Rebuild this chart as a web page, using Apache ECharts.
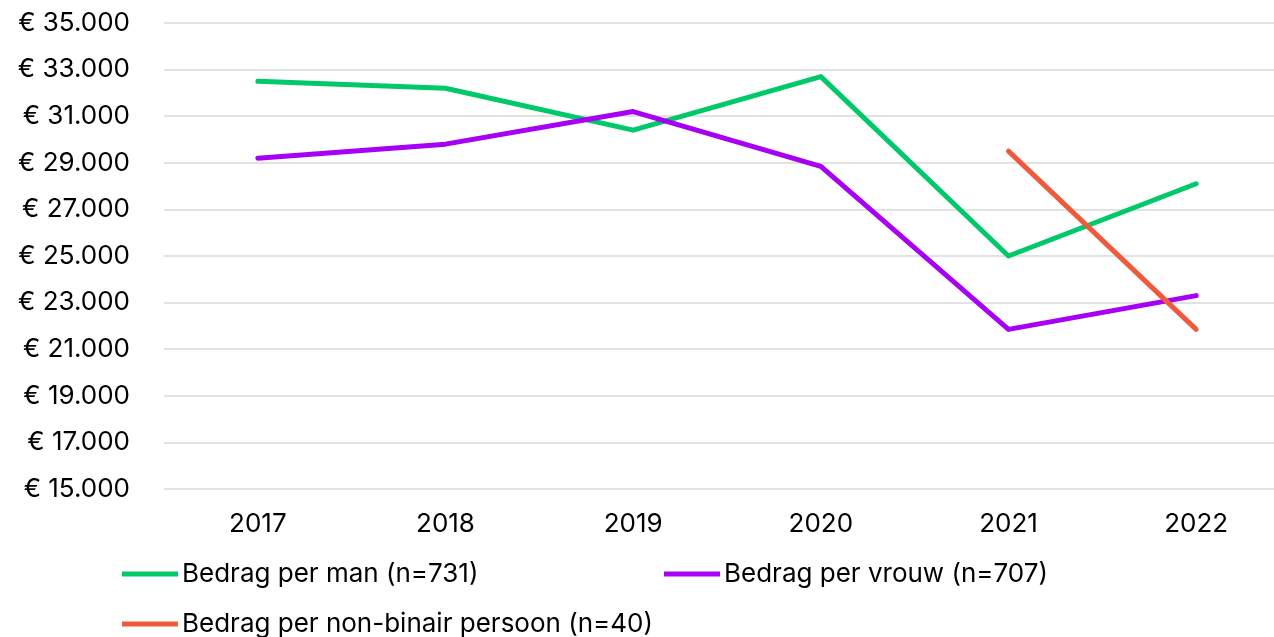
<!DOCTYPE html>
<html>
<head>
<meta charset="utf-8">
<script src="https://cdn.jsdelivr.net/npm/echarts@6/dist/echarts.min.js"></script>
<style>
  html, body { margin: 0; padding: 0; background: #fff; overflow: hidden; }
  #main { width: 1290px; height: 637px; }
</style>
</head>
<body>
<div id="main"></div>
<script>
var years = ['2017', '2018', '2019', '2020', '2021', '2022'];
var perMan = [32500, 32200, 30400, 32700, 25000, 28100];
var perVrouw = [29200, 29800, 31200, 28850, 21850, 23300];
var perNonBinair = [null, null, null, null, 29500, 21850];
var names = ['Bedrag per man (n=731)', 'Bedrag per vrouw (n=707)', 'Bedrag per non-binair persoon (n=40)'];
var colors = ['#00c96a', '#a700f5', '#f05a3c'];

var font = 'Inter, "Noto Sans", sans-serif';

function euro(v) {
    return '€ ' + String(v).replace(/\B(?=(\d{3})+(?!\d))/g, '.');
}

// one legend per item so they can sit in Excel-like columns
function legendAt(name, left, top) {
    return {
        data: [name],
        left: left,
        top: top,
        icon: 'path://M0,0 L56,0 L56,5 L0,5 Z',
        itemWidth: 56,
        itemHeight: 5,
        itemGap: 0,
        padding: 0,
        textStyle: { fontFamily: font, fontSize: 26, color: '#000', padding: [0, 0, 0, -1] }
    };
}

function lineSeries(i, data) {
    return {
        name: names[i],
        type: 'line',
        data: data,
        symbol: 'none',
        connectNulls: false,
        lineStyle: { width: 5, color: colors[i], cap: 'round', join: 'round' },
        itemStyle: { color: colors[i] }
    };
}

var myChart = echarts.init(document.getElementById('main'));

var option = {
    backgroundColor: '#fff',
    animation: false,
    grid: { left: 164, right: 0, top: 23, bottom: 148 },
    legend: [
        legendAt(names[0], 122, 561),
        legendAt(names[1], 664, 561),
        legendAt(names[2], 122, 611)
    ],
    xAxis: {
        type: 'category',
        data: years,
        boundaryGap: true,
        axisLine: { show: false },
        axisTick: { show: false },
        axisLabel: { fontFamily: font, fontSize: 26, color: '#000', margin: 22 }
    },
    yAxis: {
        type: 'value',
        min: 15000,
        max: 35000,
        interval: 2000,
        axisLine: { show: false },
        axisTick: { show: false },
        splitLine: { lineStyle: { color: '#d9d9d9', width: 1.5 } },
        axisLabel: {
            fontFamily: font, fontSize: 26, color: '#000', margin: 34,
            formatter: euro
        }
    },
    series: [
        lineSeries(0, perMan),
        lineSeries(1, perVrouw),
        lineSeries(2, perNonBinair)
    ]
};

myChart.setOption(option);
window.onresize = myChart.resize;
</script>
</body>
</html>
